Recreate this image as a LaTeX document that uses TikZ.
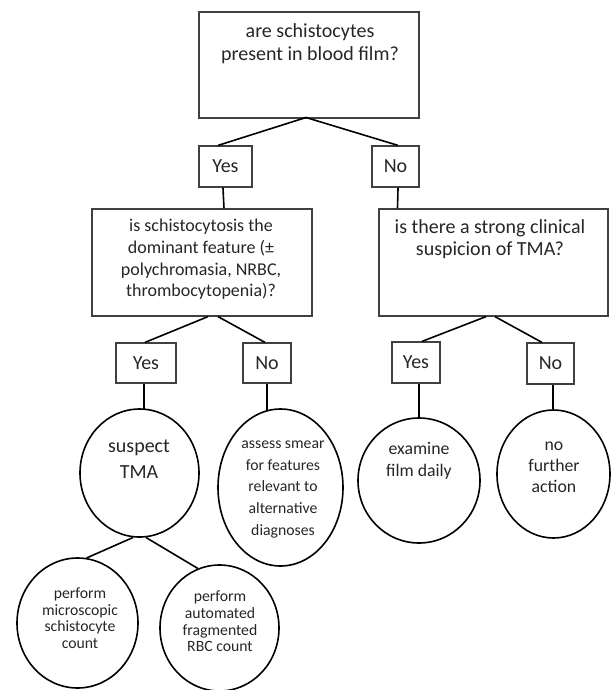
\documentclass[tikz,border=0pt]{standalone}
\usepackage{fontspec}
\setmainfont{Carlito}
\usetikzlibrary{shapes.geometric}
\definecolor{txt}{HTML}{262626}
\definecolor{boxc}{HTML}{404040}
\tikzset{
  box/.style={draw=boxc, line width=0.9pt, rectangle, inner sep=0pt},
  yn/.style={box, font=\fontsize{15}{18}\selectfont, text=txt},
  oval/.style={draw=black, line width=1.2pt, ellipse, inner sep=0pt},
  lbl/.style={align=center, text=txt, inner sep=0pt},
  conn/.style={draw=black, line width=1.2pt},
}
\begin{document}
\begin{tikzpicture}[x=0.75pt,y=-0.75pt]
\useasboundingbox (0,0) rectangle (616,690);

% question boxes
\node[box, minimum width=165pt, minimum height=79.5pt] (q1) at (309,65) {};
\node[lbl, font=\fontsize{15}{17.5}\selectfont] (q1t) at (310,43.5) {are schistocytes\\present in blood film?};

\node[yn, minimum width=39.75pt, minimum height=30.75pt] (y1) at (225.5,166.5) {Yes};
\node[yn, minimum width=35.25pt, minimum height=30.75pt] (n1) at (395.5,166.5) {No};

\node[box, minimum width=165pt, minimum height=80.25pt] (q2) at (202,262.5) {};
\node[lbl, font=\fontsize{13.5}{16.2}\selectfont] (q2t) at (201,259.5) {is schistocytosis the\\dominant feature (±\\polychromasia, NRBC,\\thrombocytopenia)?};

\node[box, minimum width=171.75pt, minimum height=80.25pt] (q3) at (493.5,262.5) {};
\node[lbl, font=\fontsize{15}{16.5}\selectfont] (q3t) at (490,239) {is there a strong clinical\\suspicion of TMA?};

\node[yn, minimum width=45pt, minimum height=30pt] (y2) at (146,363) {Yes};
\node[yn, minimum width=36pt, minimum height=30pt] (n2) at (267,363) {No};
\node[yn, minimum width=36pt, minimum height=30.75pt] (y3) at (416,362.5) {Yes};
\node[yn, minimum width=35.25pt, minimum height=30.75pt] (n3) at (550.5,363.5) {No};

% ovals
\node[oval, minimum width=89.25pt, minimum height=96pt] (o1) at (139.5,473) {};
\node[lbl, font=\fontsize{15}{19.5}\selectfont] (o1t) at (139,459) {suspect\\TMA};

\node[oval, minimum width=93.75pt, minimum height=117.75pt] (o2) at (280.5,487.5) {};
\node[lbl, font=\fontsize{11.8}{16.3}\selectfont] (o2t) at (283,489.5) {assess smear\\for features\\relevant to\\alternative\\diagnoses};

\node[oval, minimum width=91.5pt, minimum height=93.75pt] (o3) at (419,480.5) {};
\node[lbl, font=\fontsize{13.3}{16.5}\selectfont] (o3t) at (419,461) {examine\\film daily};

\node[oval, minimum width=84.75pt, minimum height=96pt] (o4) at (553.5,474) {};
\node[lbl, font=\fontsize{13.3}{15.75}\selectfont] (o4t) at (554,467) {no\\further\\action};

\node[oval, minimum width=90.75pt, minimum height=97.5pt] (o5) at (77.5,623) {};
\node[lbl, font=\fontsize{11.8}{12.5}\selectfont] (o5t) at (80,618) {perform\\microscopic\\schistocyte\\count};

\node[oval, minimum width=89.25pt, minimum height=94.5pt] (o6) at (219.5,628) {};
\node[lbl, font=\fontsize{11.8}{12.5}\selectfont] (o6t) at (220,621.5) {perform\\automated\\fragmented\\RBC count};

% connectors
\coordinate (a1) at (306,117.5);
\draw[conn] (a1) -- ([xshift=-5.6pt]y1.north);
\draw[conn] (a1) -- ([xshift=1.9pt]n1.north);
\draw[conn] ([xshift=-1.9pt]y1.south) -- ([xshift=16.5pt]q2.north);
\draw[conn] ([xshift=1.9pt]n1.south) -- ([xshift=-72pt]q3.north);

\draw[conn] ([xshift=4.5pt]q2.south) -- ([xshift=-0.75pt]y2.north);
\draw[conn] ([xshift=12pt]q2.south) -- ([xshift=-1.5pt]n2.north);
\draw[conn] ([xshift=-5.6pt]q3.south) -- ([xshift=4.5pt]y3.north);
\draw[conn] ([xshift=1.1pt]q3.south) -- ([xshift=-6.4pt]n3.north);

\draw[conn] ([xshift=-1.5pt]y2.south) -- ([xshift=-1.5pt,yshift=-0.3pt]y2.south |- o1.north);
\draw[conn] (n2.south) -- ([yshift=-1.2pt]n2.south |- o2.north);
\draw[conn] ([xshift=2.25pt]y3.south) -- (o3.north);
\draw[conn] ([xshift=1.9pt]n3.south) -- ([xshift=1.9pt]n3.south |- o4.north);

\coordinate (b1) at (133,537.5);
\coordinate (b2) at (146,537.5);
\draw[conn] (b1) -- (o5.82);
\draw[conn] (b2) -- (o6.110);
\end{tikzpicture}
\end{document}
